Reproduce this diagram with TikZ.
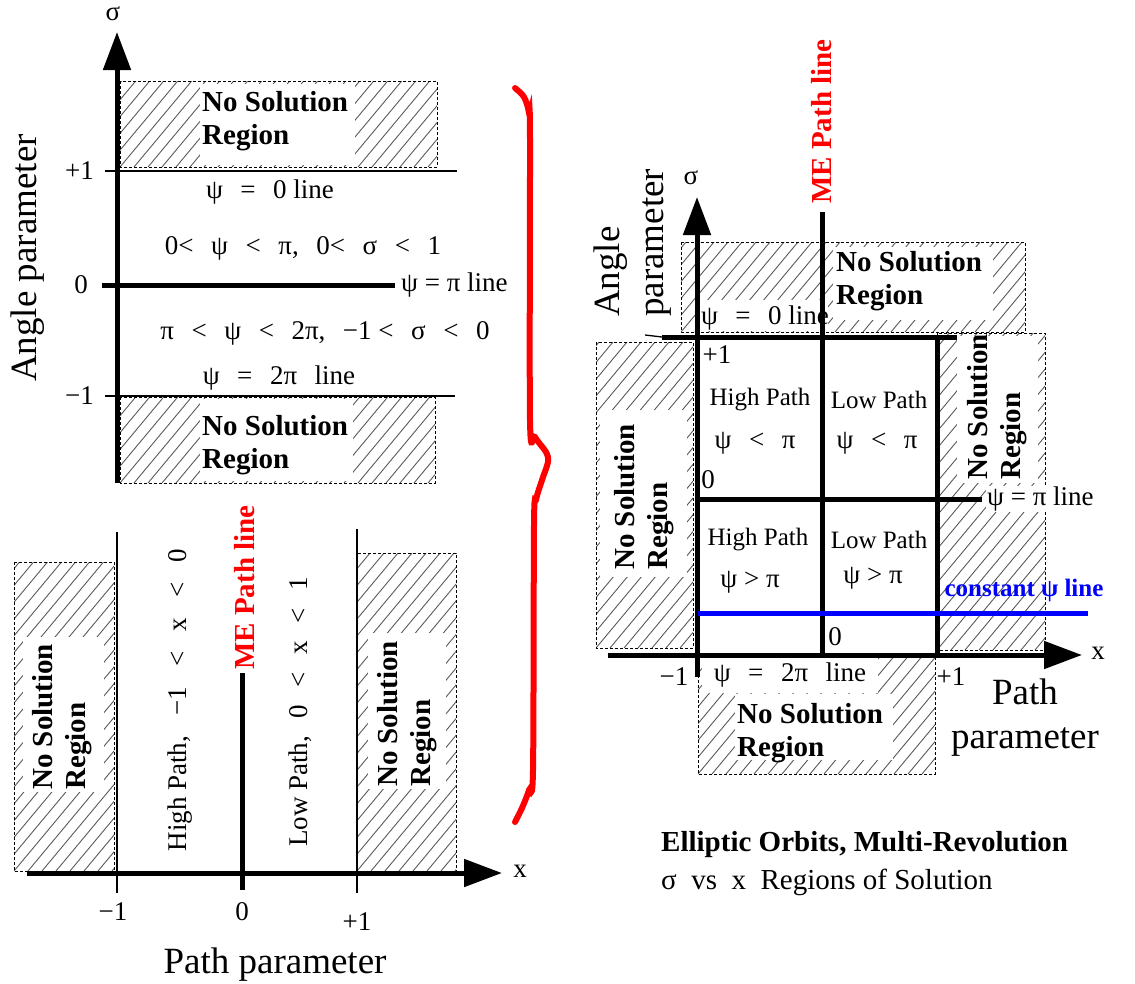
\documentclass[tikz,border=0pt]{standalone}
\usepackage{fontspec}
\setmainfont{Liberation Serif}
\usetikzlibrary{arrows.meta}

% font sizes (1 unit = 1pt)
\newcommand\fbig{\fontsize{37}{44}\selectfont}
\newcommand\freg{\fontsize{27}{32}\selectfont}
\newcommand\fpath{\fontsize{25}{30}\selectfont}
\newcommand\fcap{\fontsize{29}{34}\selectfont}
\newcommand\fbold{\fontsize{29}{33}\selectfont\bfseries}
\newcommand\fsmallbold{\fontsize{25}{30}\selectfont\bfseries}
% wide gap used inside the inequalities
\newcommand\gp{\hspace{0.65em}}
\newcommand\gw{\hspace{0.75em}}

% hatched "no solution" box: #1,#2 top-left corner, #3,#4 bottom-right corner
\newcommand\hatchbox[4]{%
  \begin{scope}
    \clip (#1,#2) rectangle (#3,#4);
    \foreach \k in {-350,-336,...,350}
      \draw[hatchline] ({#1+\k},#4) -- ++(300,-360);
  \end{scope}
  \draw[boxedge] (#1,#2) rectangle (#3,#4);
}

\tikzset{
  hatchline/.style={draw=black!65, line width=0.9pt},
  boxedge/.style={draw=black, line width=0.9pt, dash pattern=on 3pt off 2pt},
  heavyline/.style={line width=5pt},
  thinrule/.style={line width=1.3pt},
  axisarrow/.style={line width=5pt, -{Triangle[length=38pt,width=27pt]}},
  lbl/.style={font=\freg, inner sep=0pt},
  pathlbl/.style={font=\fpath, inner sep=0pt},
  biglbl/.style={font=\fbig, inner sep=0pt},
  nsr/.style={font=\fbold, inner sep=0pt, align=left},
  mepath/.style={font=\fbold, text=red, inner sep=0pt},
  bluetext/.style={font=\fsmallbold, text=blue, inner sep=1pt},
}

\begin{document}
\begin{tikzpicture}[x=1pt,y=-1pt]
\useasboundingbox (0,0) rectangle (1135,983);

% ================= upper left: sigma axis =================
\hatchbox{120}{81}{437}{167}
\fill[white] (200,84) rectangle (355,165);
\node[nsr, anchor=west] (nsrTop) at (202,121) {No Solution\\Region};
\hatchbox{120}{397}{435}{483}
\fill[white] (200,399) rectangle (353,481);
\node[nsr, anchor=west] (nsrBot) at (202,445) {No Solution\\Region};

\coordinate (pOneL) at (105,171);  \coordinate (pOneR) at (457,171);
\coordinate (mOneL) at (105,396);  \coordinate (mOneR) at (455,396);
\coordinate (zeroL) at (102,285);  \coordinate (zeroR) at (395,285);
\coordinate (sigBot) at (117,483); \coordinate (sigTop) at (117,32);
\draw[thinrule] (pOneL) -- (pOneR);
\draw[thinrule] (mOneL) -- (mOneR);
\draw[heavyline] (zeroL) -- (zeroR);
\draw[axisarrow] (sigBot) -- (sigTop);

\node[lbl] (sigA) at (113,14) {σ};
\node[lbl, anchor=east] (tPone) at (94,171) {+1};
\node[lbl, anchor=east] (tZero) at (88,285) {0};
\node[lbl, anchor=east] (tMone) at (94,396) {−1};
\node[lbl] (psi0) at (270,192) {ψ\gp=\gp0 line};
\node[lbl] (rgUp) at (303,248) {0<\gp ψ\gp<\gp π,\gp 0<\gp σ\gp<\gp1};
\node[lbl, anchor=west] (psiPi) at (401,285) {ψ = π line};
\node[lbl] (rgLo) at (325,333) {π\gp<\gp ψ\gp<\gp2π,\gp−1 <\gp σ\gp<\gp0};
\node[lbl] (psi2pi) at (279,378) {ψ\gp=\gp2π\gp line};
\node[biglbl, rotate=90] (angA) at (28,258) {Angle parameter};

% ================= lower left: x axis =================
\hatchbox{14}{562}{114}{871}
\fill[white] (23,637) rectangle (104,792);
\node[nsr, rotate=90, anchor=west] (nsrL) at (62,790) {No Solution\\Region};
\hatchbox{357}{553}{456}{871}
\fill[white] (368,633) rectangle (446,789);
\node[nsr, rotate=90, anchor=west] (nsrR) at (407,787) {No Solution\\Region};

\coordinate (tmT) at (117,532); \coordinate (tmB) at (117,893);
\coordinate (tpT) at (357,529); \coordinate (tpB) at (357,893);
\coordinate (meT) at (242,673); \coordinate (meB) at (242,890);
\coordinate (xL) at (27,873);   \coordinate (xR) at (502,873);
\draw[thinrule] (tmT) -- (tmB);
\draw[thinrule] (tpT) -- (tpB);
\draw[heavyline] (meT) -- (meB);
\draw[axisarrow] (xL) -- (xR);

\node[lbl] (xA) at (520,871) {x};
\node[lbl] (xm1) at (113,912) {−1};
\node[lbl] (x0) at (242,912) {0};
\node[lbl] (xp1) at (357,922) {+1};
\node[biglbl] (pathA) at (275,965) {Path parameter};
\node[lbl, rotate=90] (hiP) at (180,700) {High Path,\gw−1\gw<\gw x\gw<\gw0};
\node[mepath, rotate=90, anchor=west] (meA) at (245,670) {ME Path line};
\node[lbl, rotate=90] (loP) at (300,712) {Low Path,\gp0\gp<\gp x\gp<\gp1};

% ================= curly brace =================
\draw[red, line width=6pt, line cap=round] plot[smooth, tension=0.5] coordinates {
  (515,88) (524,97) (529,113) (530,140) (530,420) (535,437) (546,452)
  (548,462) (542,480) (536,500) (534,525) (533,770) (529,790) (522,808) (515,822)};

% ================= right: combined sigma-x plane =================
\hatchbox{681}{242}{1025}{332}
\fill[white] (833,247) rectangle (993,320);
\fill[white] (700,300) rectangle (828,331);
\node[nsr, anchor=west] (nsrRT) at (836,281) {No Solution\\Region};
\node[lbl] (rpsi0) at (765,318) {ψ\gp=\gp0 line};

\hatchbox{596}{342}{693}{648}
\fill[white] (600,410) rectangle (687,577);
\node[nsr, rotate=90, anchor=west] (nsrRL) at (644,570) {No Solution\\Region};

\hatchbox{937}{333}{1045}{650}
\fill[white] (957,336) rectangle (1038,483);
\node[nsr, rotate=90, anchor=west] (nsrRR) at (997,480) {No Solution\\Region};

\hatchbox{698}{655}{935}{774}
\fill[white] (702,658) rectangle (878,693);
\fill[white] (735,694) rectangle (893,760);
\node[nsr, anchor=west] (nsrRB) at (737,733) {No Solution\\Region};
\node[lbl] (rpsi2pi) at (790,675) {ψ\gp=\gp2π\gp line};

\coordinate (rTopL) at (662,337);  \coordinate (rTopR) at (957,337);
\coordinate (rStubL) at (645,335);
\coordinate (rP1T) at (937,337);   \coordinate (rP1B) at (937,655);
\coordinate (rPiL) at (697,499);   \coordinate (rPiR) at (982,499);
\coordinate (rMeT) at (822,212);   \coordinate (rMeB) at (822,655);
\coordinate (rBlL) at (698,613);   \coordinate (rBlR) at (1088,613);
\coordinate (rxL) at (608,655);    \coordinate (rxR) at (1082,655);
\coordinate (rsB) at (697,677);    \coordinate (rsT) at (697,197);
\draw[thinrule] (rStubL) -- (rTopL);
\draw[heavyline] (rTopL) -- (rTopR);
\draw[heavyline] (rP1T) -- (rP1B);
\draw[heavyline] (rPiL) -- (rPiR);
\draw[heavyline] (rMeT) -- (rMeB);
\draw[axisarrow] (rxL) -- (rxR);
\draw[axisarrow] (rsB) -- (rsT);
\draw[blue, line width=5pt] (rBlL) -- (rBlR);

\node[lbl] (rsig) at (691,178) {σ};
\node[biglbl, rotate=90, anchor=west, align=left] (rang) at (633,317) {Angle\\parameter};
\node[mepath, rotate=90, anchor=west] (rme) at (822,204) {ME Path line};
\node[lbl] (rp1) at (717,355) {+1};
\node[lbl] (r0a) at (708,480) {0};
\node[pathlbl] (hp1) at (760,400) {High Path};
\node[lbl] (hp1b) at (755,443) {ψ\gp<\gp π};
\node[pathlbl] (lp1) at (879,400) {Low Path};
\node[lbl] (lp1b) at (877,443) {ψ\gp<\gp π};
\node[pathlbl] (hp2) at (758,540) {High Path};
\node[lbl] (hp2b) at (750,582) {ψ > π};
\node[pathlbl] (lp2) at (879,540) {Low Path};
\node[lbl] (lp2b) at (873,578) {ψ > π};
\node[lbl, anchor=west, fill=white, inner sep=1pt] (rpsiPi) at (986,499) {ψ = π line};
\node[bluetext] (cpsi) at (1024,590) {constant ψ line};
\node[lbl] (r0b) at (835,637) {0};
\node[lbl] (rx) at (1098,653) {x};
\node[lbl] (rm1) at (674,677) {−1};
\node[lbl] (rp1b) at (951,677) {+1};
\node[biglbl, align=center] (rpath) at (1025,718) {Path\\parameter};

% caption
\node[font=\fbold, inner sep=0pt, anchor=west] (cap1) at (661,845) {Elliptic Orbits, Multi-Revolution};
\node[font=\fcap, inner sep=0pt, anchor=west] (cap2) at (661,882) {σ~~vs~~x~~Regions of Solution};
\end{tikzpicture}
\end{document}
